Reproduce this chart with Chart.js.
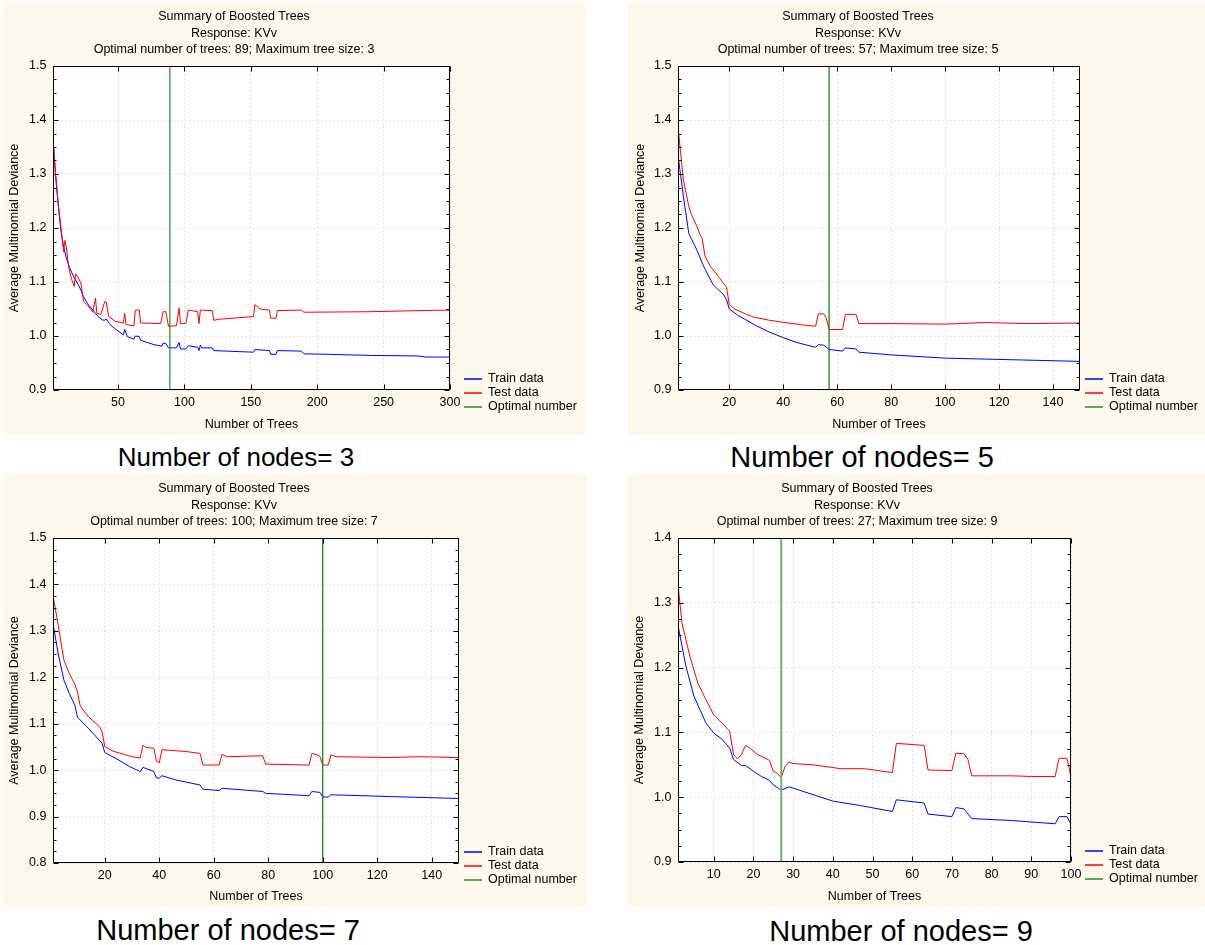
<!DOCTYPE html>
<html>
<head>
<meta charset="utf-8">
<script src="https://cdn.jsdelivr.net/npm/chart.js@4.4.0/dist/chart.umd.min.js"></script>
<style>
  html, body { margin: 0; padding: 0; background: #fff; }
  body { position: relative; width: 1205px; height: 945px; overflow: hidden; font-family: "Liberation Sans", Arial, sans-serif; }
  .panel { position: absolute; background: #fcf8ec; }
  .panel canvas { display: block; }
  .caption { position: absolute; transform: translateX(-50%); white-space: nowrap; color: #000; line-height: 1; }
</style>
</head>
<body>
<div class="panel" style="left:2px;top:2px;width:584px;height:433px"><canvas id="chart3" width="584" height="433"></canvas></div>
<div class="panel" style="left:628px;top:2px;width:577px;height:433px"><canvas id="chart5" width="577" height="433"></canvas></div>
<div class="panel" style="left:2px;top:474px;width:585px;height:433px"><canvas id="chart7" width="585" height="433"></canvas></div>
<div class="panel" style="left:627px;top:474px;width:578px;height:433px"><canvas id="chart9" width="578" height="433"></canvas></div>

<div class="caption" style="left:236px;top:444px;font-size:26px">Number of nodes= 3</div>
<div class="caption" style="left:862px;top:443px;font-size:29px">Number of nodes= 5</div>
<div class="caption" style="left:228px;top:916px;font-size:29px">Number of nodes= 7</div>
<div class="caption" style="left:901px;top:917px;font-size:29px">Number of nodes= 9</div>

<script>
// ---- Number of nodes = 3 ----
var n3TrainX = [1, 3, 5, 7, 9, 11, 13, 15, 17, 20, 22, 24, 27, 31, 35, 38, 40, 41, 44, 48, 54, 55, 57, 62, 63, 66, 67, 77, 83, 84, 86, 88, 94, 96, 97, 101, 103, 110, 111, 112, 113, 121, 122, 152, 153, 164, 165, 169, 170, 188, 190, 209, 241, 276, 282, 300];
var n3TrainY = [1.366, 1.295, 1.240, 1.195, 1.165, 1.145, 1.130, 1.118, 1.108, 1.095, 1.085, 1.073, 1.060, 1.048, 1.036, 1.030, 1.029, 1.032, 1.021, 1.013, 1.002, 1.012, 0.999, 0.994, 1.000, 0.999, 0.992, 0.984, 0.981, 0.987, 0.986, 0.978, 0.978, 0.988, 0.976, 0.976, 0.982, 0.979, 0.973, 0.983, 0.978, 0.978, 0.973, 0.970, 0.975, 0.973, 0.966, 0.966, 0.973, 0.972, 0.967, 0.966, 0.964, 0.963, 0.961, 0.961];
var n3TestX = [1, 3, 5, 7, 9, 10, 11, 13, 15, 17, 18, 20, 22, 24, 27, 31, 33, 34, 37, 40, 41, 43, 48, 54, 55, 56, 62, 63, 66, 67, 82, 84, 86, 88, 94, 96, 97, 101, 103, 110, 111, 112, 121, 122, 126, 152, 153, 157, 164, 165, 169, 170, 188, 190, 241, 276, 300];
var n3TestY = [1.366, 1.300, 1.245, 1.200, 1.156, 1.177, 1.165, 1.125, 1.105, 1.092, 1.115, 1.108, 1.098, 1.064, 1.057, 1.044, 1.070, 1.042, 1.040, 1.064, 1.063, 1.036, 1.027, 1.024, 1.042, 1.021, 1.019, 1.048, 1.048, 1.024, 1.023, 1.045, 1.045, 1.018, 1.019, 1.052, 1.023, 1.023, 1.048, 1.045, 1.023, 1.048, 1.047, 1.029, 1.031, 1.036, 1.058, 1.050, 1.048, 1.033, 1.033, 1.047, 1.048, 1.044, 1.045, 1.047, 1.048];
var n3Optimal = 89;
var n3XMax = 300;
var n3XTicks = [50, 100, 150, 200, 250, 300];
var n3YTicks = [0.9, 1.0, 1.1, 1.2, 1.3, 1.4, 1.5];

// ---- Number of nodes = 5 ----
var n5TrainX = [1, 3, 5, 8, 10, 11, 14, 18, 19, 20, 23, 30, 35, 40, 45, 52, 53, 55, 57, 62, 63, 67, 68, 80, 100, 125, 150];
var n5TrainY = [1.335, 1.258, 1.190, 1.159, 1.135, 1.124, 1.095, 1.076, 1.067, 1.050, 1.039, 1.019, 1.007, 0.997, 0.988, 0.979, 0.984, 0.983, 0.975, 0.972, 0.978, 0.976, 0.970, 0.965, 0.959, 0.956, 0.953];
var n5TestX = [1, 3, 5, 6, 8, 9, 10, 11, 13, 16, 19, 20, 22, 26, 29, 35, 42, 48, 52, 53, 55, 56, 57, 62, 63, 67, 68, 80, 100, 115, 130, 150];
var n5TestY = [1.387, 1.289, 1.240, 1.225, 1.203, 1.190, 1.180, 1.148, 1.129, 1.110, 1.090, 1.058, 1.050, 1.041, 1.035, 1.029, 1.024, 1.020, 1.018, 1.041, 1.041, 1.033, 1.012, 1.012, 1.040, 1.040, 1.023, 1.023, 1.022, 1.025, 1.023, 1.024];
var n5Optimal = 57;
var n5XMax = 150;
var n5XTicks = [20, 40, 60, 80, 100, 120, 140];
var n5YTicks = [0.9, 1.0, 1.1, 1.2, 1.3, 1.4, 1.5];

// ---- Number of nodes = 7 ----
var n7TrainX = [1, 3, 5, 7, 9, 10, 14, 19, 20, 25, 29, 33, 34, 38, 39, 40, 41, 46, 55, 56, 62, 63, 78, 79, 95, 96, 99, 100, 102, 103, 125, 150];
var n7TrainY = [1.316, 1.248, 1.194, 1.165, 1.140, 1.114, 1.090, 1.058, 1.038, 1.022, 1.008, 0.997, 1.006, 0.997, 0.983, 0.983, 0.988, 0.979, 0.968, 0.959, 0.956, 0.961, 0.954, 0.950, 0.945, 0.954, 0.952, 0.942, 0.942, 0.947, 0.943, 0.939];
var n7TestX = [1, 3, 5, 7, 9, 10, 11, 14, 18, 19, 20, 23, 27, 30, 33, 34, 35, 38, 39, 40, 41, 50, 55, 56, 62, 63, 65, 78, 79, 95, 96, 98, 99, 100, 102, 103, 105, 125, 135, 150];
var n7TestY = [1.377, 1.309, 1.237, 1.208, 1.185, 1.168, 1.138, 1.115, 1.094, 1.083, 1.051, 1.041, 1.034, 1.029, 1.026, 1.054, 1.049, 1.047, 1.019, 1.016, 1.044, 1.040, 1.036, 1.011, 1.011, 1.034, 1.029, 1.031, 1.013, 1.011, 1.036, 1.033, 1.029, 1.011, 1.011, 1.033, 1.029, 1.027, 1.029, 1.027];
var n7Optimal = 100;
var n7XMax = 150;
var n7XTicks = [20, 40, 60, 80, 100, 120, 140];
var n7YTicks = [0.8, 0.9, 1.0, 1.1, 1.2, 1.3, 1.4, 1.5];

// ---- Number of nodes = 9 ----
var n9TrainX = [1, 3, 5, 8, 10, 12, 14, 15, 17, 18, 20, 22, 24, 25, 27, 29, 31, 40, 47, 55, 56, 63, 64, 70, 71, 73, 75, 85, 96, 97, 99, 100];
var n9TrainY = [1.265, 1.202, 1.156, 1.115, 1.099, 1.090, 1.076, 1.058, 1.049, 1.049, 1.040, 1.032, 1.026, 1.019, 1.011, 1.016, 1.012, 0.994, 0.987, 0.978, 0.996, 0.991, 0.974, 0.970, 0.984, 0.982, 0.967, 0.964, 0.959, 0.970, 0.970, 0.958];
var n9TestX = [1, 2, 4, 6, 8, 10, 12, 14, 15, 16, 17, 18, 19, 21, 24, 25, 26, 27, 28, 29, 30, 35, 42, 48, 55, 56, 63, 64, 70, 71, 73, 74, 75, 85, 90, 96, 97, 99, 100];
var n9TestY = [1.328, 1.269, 1.217, 1.176, 1.151, 1.127, 1.115, 1.102, 1.066, 1.059, 1.066, 1.080, 1.076, 1.066, 1.057, 1.040, 1.037, 1.030, 1.048, 1.054, 1.052, 1.050, 1.044, 1.044, 1.038, 1.083, 1.080, 1.042, 1.041, 1.068, 1.067, 1.059, 1.033, 1.033, 1.032, 1.032, 1.060, 1.060, 1.031];
var n9Optimal = 27;
var n9XMax = 100;
var n9XTicks = [10, 20, 30, 40, 50, 60, 70, 80, 90, 100];
var n9YTicks = [0.9, 1.0, 1.1, 1.2, 1.3, 1.4];

var FONT_FAMILY = "'Liberation Sans', Arial, sans-serif";
Chart.defaults.font.family = FONT_FAMILY;
Chart.defaults.font.size = 12.5;
Chart.defaults.color = '#000';

function pairs(xs, ys) {
    return xs.map(function(x, i) { return { x: x, y: ys[i] }; });
}

// white plot area, black frame with inward ticks, title lines and legend
var statPlugin = {
    id: 'statFrame',
    beforeDraw: function(chart) {
        var a = chart.chartArea, ctx = chart.ctx;
        ctx.save();
        ctx.fillStyle = '#fff';
        ctx.fillRect(a.left, a.top, a.right - a.left, a.bottom - a.top);
        ctx.restore();
    },
    afterDraw: function(chart, args, opts) {
        var ctx = chart.ctx, a = chart.chartArea;
        var xs = chart.scales.x, ys = chart.scales.y;
        var L = Math.round(a.left) + 0.5, R = Math.round(a.right) - 0.5;
        var T = Math.round(a.top) + 0.5, B = Math.round(a.bottom) - 0.5;

        ctx.save();
        ctx.setLineDash([]);
        ctx.globalAlpha = 1;
        ctx.strokeStyle = '#000';
        ctx.lineWidth = 1;
        ctx.beginPath();
        for (var k = 0; k < 200; k++) {
            var v = ys.min + k * 0.025;
            if (v > ys.max + 1e-9) break;
            var py = Math.round(ys.getPixelForValue(v)) + 0.5;
            var len = (k % 4 === 0) ? 5 : 3;
            ctx.moveTo(L, py); ctx.lineTo(L + len, py);
            ctx.moveTo(R, py); ctx.lineTo(R - len, py);
        }
        for (var j = 0; j < opts.xTicks.length; j++) {
            var px = Math.round(xs.getPixelForValue(opts.xTicks[j])) + 0.5;
            ctx.moveTo(px, B); ctx.lineTo(px, B - 5);
            ctx.moveTo(px, T); ctx.lineTo(px, T + 5);
        }
        ctx.moveTo(L, T); ctx.lineTo(R, T); ctx.lineTo(R, B); ctx.lineTo(L, B); ctx.closePath();
        ctx.stroke();

        ctx.fillStyle = '#000';
        ctx.font = '12.5px ' + FONT_FAMILY;
        ctx.textAlign = 'center';
        ctx.textBaseline = 'middle';
        for (var i = 0; i < opts.titles.length; i++) {
            ctx.fillText(opts.titles[i], opts.titleX, 15 + i * 16.5);
        }

        ctx.textAlign = 'left';
        var dsets = chart.data.datasets;
        for (var d = 0; d < dsets.length; d++) {
            var ly = Math.round(a.bottom) - 11 + d * 14;
            ctx.beginPath();
            ctx.strokeStyle = dsets[d].legendColor;
            ctx.lineWidth = 1.5;
            ctx.moveTo(opts.legendX, ly);
            ctx.lineTo(opts.legendX + 18, ly);
            ctx.stroke();
            ctx.fillText(dsets[d].label, opts.legendX + 24, ly);
        }
        ctx.restore();
    }
};

function makeChart(id, p) {
    var canvas = document.getElementById(id);
    var W = canvas.width, H = canvas.height;
    var yMin = p.yTicks[0], yMax = p.yTicks[p.yTicks.length - 1];
    return new Chart(canvas.getContext('2d'), {
        type: 'line',
        data: {
            datasets: [{
                label: 'Train data',
                data: pairs(p.trainX, p.trainY),
                borderColor: '#0000ff',
                legendColor: '#0000ff',
                borderWidth: 1,
                order: 2
            }, {
                label: 'Test data',
                data: pairs(p.testX, p.testY),
                borderColor: '#ff0000',
                legendColor: '#ff0000',
                borderWidth: 1,
                order: 1
            }, {
                label: 'Optimal number',
                data: [{ x: p.optimal, y: yMin }, { x: p.optimal, y: yMax }],
                borderColor: p.optColor,
                legendColor: '#2e8b2e',
                borderWidth: p.optWidth,
                order: 0
            }]
        },
        options: {
            responsive: false,
            animation: false,
            events: [],
            elements: { point: { radius: 0 }, line: { tension: 0 } },
            layout: { padding: { left: 0, top: p.plotTop, right: W - p.plotRight, bottom: 0 } },
            plugins: {
                legend: { display: false },
                title: { display: false },
                tooltip: { enabled: false },
                statFrame: {
                    titles: ['Summary of Boosted Trees', 'Response: KVv', p.subtitle],
                    titleX: p.titleX,
                    legendX: p.legendX,
                    xTicks: p.xTicks
                }
            },
            scales: {
                x: {
                    type: 'linear',
                    min: 1,
                    max: p.xMax,
                    afterBuildTicks: function(s) { s.ticks = p.xTicks.map(function(v) { return { value: v }; }); },
                    afterFit: function(s) { s.height = H - p.plotBottom; },
                    ticks: { padding: 5.5, maxRotation: 0, autoSkip: false, color: '#000' },
                    grid: { color: '#e2e2e2', drawTicks: false },
                    border: { display: false, dash: [2, 2] },
                    title: { display: true, text: 'Number of Trees', color: '#000', padding: { top: 0, bottom: 3 } }
                },
                y: {
                    type: 'linear',
                    min: yMin,
                    max: yMax,
                    afterBuildTicks: function(s) { s.ticks = p.yTicks.map(function(v) { return { value: v }; }); },
                    afterFit: function(s) { s.width = p.plotLeft; },
                    ticks: { padding: 6.5, color: '#000', callback: function(v) { return v.toFixed(1); } },
                    grid: { color: '#e2e2e2', drawTicks: false },
                    border: { display: false, dash: [2, 2] },
                    title: { display: true, text: 'Average Multinomial Deviance', color: '#000', padding: { top: 5, bottom: 0 } }
                }
            }
        },
        plugins: [statPlugin]
    });
}

makeChart('chart3', {
    trainX: n3TrainX, trainY: n3TrainY, testX: n3TestX, testY: n3TestY,
    optimal: n3Optimal, xMax: n3XMax, xTicks: n3XTicks, yTicks: n3YTicks,
    subtitle: 'Optimal number of trees: 89; Maximum tree size: 3',
    optColor: '#1f8f1f', optWidth: 1.2,
    plotLeft: 51, plotRight: 448, plotTop: 64, plotBottom: 388, titleX: 232, legendX: 462
});
makeChart('chart5', {
    trainX: n5TrainX, trainY: n5TrainY, testX: n5TestX, testY: n5TestY,
    optimal: n5Optimal, xMax: n5XMax, xTicks: n5XTicks, yTicks: n5YTicks,
    subtitle: 'Optimal number of trees: 57; Maximum tree size: 5',
    optColor: '#007f00', optWidth: 1.2,
    plotLeft: 50, plotRight: 452, plotTop: 64, plotBottom: 388, titleX: 230, legendX: 457
});
makeChart('chart7', {
    trainX: n7TrainX, trainY: n7TrainY, testX: n7TestX, testY: n7TestY,
    optimal: n7Optimal, xMax: n7XMax, xTicks: n7XTicks, yTicks: n7YTicks,
    subtitle: 'Optimal number of trees: 100; Maximum tree size: 7',
    optColor: '#007f00', optWidth: 1.2,
    plotLeft: 51, plotRight: 457, plotTop: 64, plotBottom: 389, titleX: 232, legendX: 462
});
makeChart('chart9', {
    trainX: n9TrainX, trainY: n9TrainY, testX: n9TestX, testY: n9TestY,
    optimal: n9Optimal, xMax: n9XMax, xTicks: n9XTicks, yTicks: n9YTicks,
    subtitle: 'Optimal number of trees: 27; Maximum tree size: 9',
    optColor: '#6cb46c', optWidth: 2,
    plotLeft: 51, plotRight: 444, plotTop: 64, plotBottom: 388, titleX: 230, legendX: 458
});
</script>
</body>
</html>
